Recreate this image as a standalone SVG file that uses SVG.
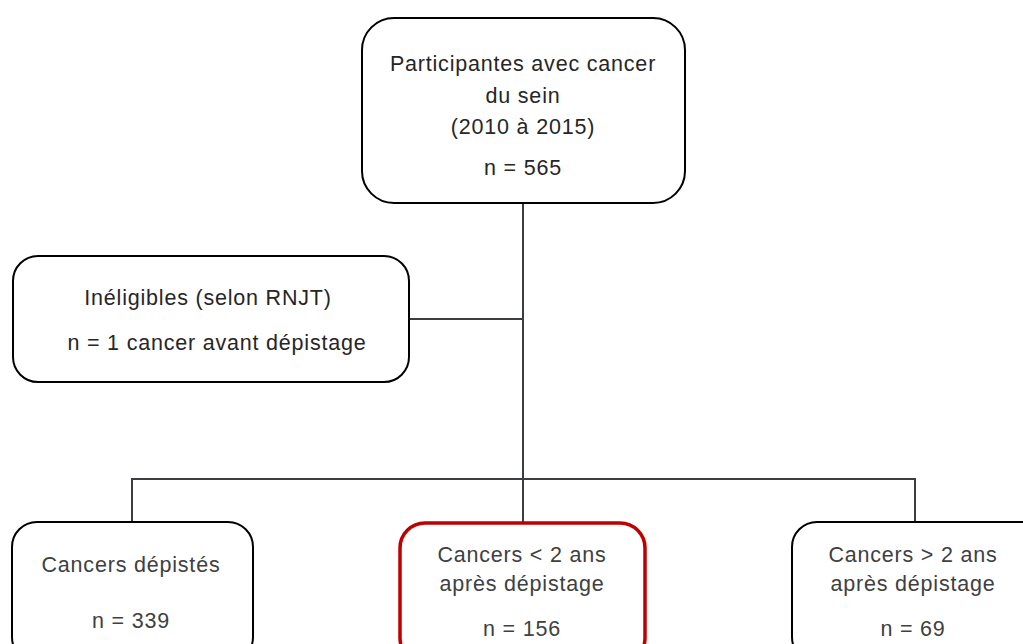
<svg xmlns="http://www.w3.org/2000/svg" width="1023" height="644" viewBox="0 0 1023 644">
<style>
.box{fill:#fff;stroke:#000;stroke-width:2}
.red{fill:#fff;stroke:#C00000;stroke-width:3.5}
.t{font-family:"Liberation Sans",Arial,sans-serif;font-size:21.5px;letter-spacing:0.8px;fill:#262626;text-anchor:middle}
.g{fill:#404040}
.c{fill:none;stroke:#3a3d42;stroke-width:2}
</style>
<rect width="1023" height="644" fill="#fff"/>
<g id="connectors">
<line class="c" x1="523" y1="203" x2="523" y2="523" stroke-width="2.5"/>
<line class="c" x1="409" y1="319" x2="523" y2="319"/>
<polyline class="c" points="132,522 132,479 915,479 915,522"/>
</g>
<g id="top">
<rect class="box" x="362" y="18" width="323" height="185" rx="32"/>
<text class="t" x="523" y="71">Participantes avec cancer</text>
<text class="t" x="523" y="103">du sein</text>
<text class="t" x="523" y="134">(2010 à 2015)</text>
<text class="t" x="523" y="175">n = 565</text>
</g>
<g id="ineligibles">
<rect class="box" x="13" y="256" width="396" height="126" rx="25"/>
<text class="t" x="208" y="305">Inéligibles (selon RNJT)</text>
<text class="t" x="217" y="350">n = 1 cancer avant dépistage</text>
</g>
<g id="depistes">
<rect class="box" x="12" y="522" width="241" height="140" rx="25"/>
<text class="t g" x="131" y="572">Cancers dépistés</text>
<text class="t g" x="131" y="628">n = 339</text>
</g>
<g id="moins2">
<rect class="red" x="400" y="523" width="245" height="140" rx="25"/>
<text class="t g" x="522" y="562">Cancers &lt; 2 ans</text>
<text class="t g" x="522" y="591">après dépistage</text>
<text class="t g" x="522" y="636">n = 156</text>
</g>
<g id="plus2">
<rect class="box" x="792" y="522" width="260" height="140" rx="25"/>
<text class="t g" x="913" y="562">Cancers &gt; 2 ans</text>
<text class="t g" x="913" y="591">après dépistage</text>
<text class="t g" x="913" y="636">n = 69</text>
</g>
</svg>
